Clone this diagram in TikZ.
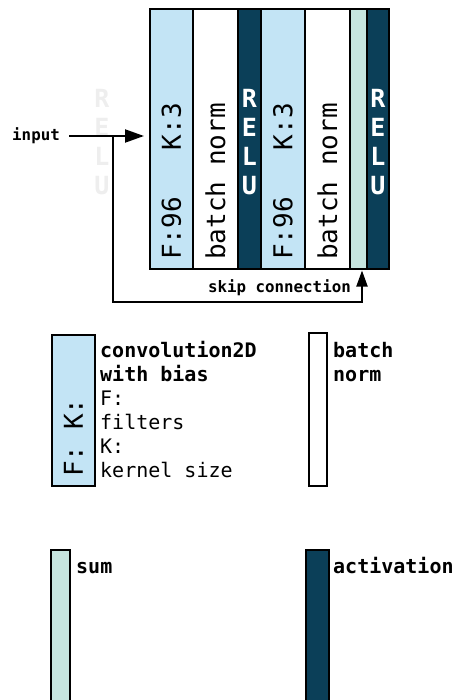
\documentclass[tikz,border=0pt]{standalone}
\usepackage{fontspec}
\setmonofont{DejaVu Sans Mono}
\usetikzlibrary{arrows.meta}
\definecolor{convc}{HTML}{C3E4F5}
\definecolor{actc}{HTML}{0B3F58}
\definecolor{sumc}{HTML}{C6E5DF}
\definecolor{ghostc}{HTML}{EEEEEE}
\begin{document}
\begin{tikzpicture}[x=1pt,y=-1pt,font=\ttfamily,
  col/.style={draw=black,line width=1.5pt,anchor=north west,minimum height=260pt,inner sep=0pt,outer sep=0pt},
  convcol/.style={col,fill=convc},
  bncol/.style={col,fill=white},
  actcol/.style={col,fill=actc},
  sumcol/.style={col,fill=sumc},
  coltxt/.style={rotate=90,anchor=west,inner sep=0pt,font=\ttfamily\fontsize{26}{30}\selectfont},
  relutxt/.style={align=center,inner sep=0pt,text=white,font=\ttfamily\bfseries\fontsize{25}{29}\selectfont},
  smalltxt/.style={inner sep=0pt,font=\ttfamily\bfseries\fontsize{15.8}{18}\selectfont},
  legtxt/.style={anchor=base west,inner sep=0pt,font=\ttfamily\fontsize{20}{24}\selectfont},
  legbold/.style={legtxt,font=\ttfamily\bfseries\fontsize{20}{24}\selectfont},
  legbox/.style={draw=black,line width=1.5pt,anchor=north west,inner sep=0pt,outer sep=0pt},
  conn/.style={draw=black,line width=2pt}]
\useasboundingbox (0,0) rectangle (454,700);
% main block
\node[convcol,minimum width=43pt] (c1) at (150,9) {};
\node[bncol,minimum width=45pt] (b1) at (c1.north east) {};
\node[actcol,minimum width=23pt] (r1) at (b1.north east) {};
\node[convcol,minimum width=44pt] (c2) at (r1.north east) {};
\node[bncol,minimum width=45pt] (b2) at (c2.north east) {};
\node[sumcol,minimum width=17pt] (s) at (b2.north east) {};
\node[actcol,minimum width=22pt] (r2) at (s.north east) {};
\draw[line width=2.5pt] (c1.north west) rectangle (r2.south east);
% column labels
\node[coltxt] (c1t) at ([yshift=9pt]c1.south) {F:96\ \ \ K:3};
\node[coltxt] (b1t) at ([yshift=9pt]b1.south) {batch\ norm};
\node[coltxt] (c2t) at ([yshift=9pt]c2.south) {F:96\ \ \ K:3};
\node[coltxt] (b2t) at ([yshift=9pt]b2.south) {batch\ norm};
\node[relutxt] (r1t) at ([yshift=-3.5pt]r1.center) {R\\E\\L\\U};
\node[relutxt] (r2t) at ([yshift=-3.5pt]r2.center) {R\\E\\L\\U};
\node[relutxt,text=ghostc] (g) at (102,142.5) {R\\E\\L\\U};
% input and skip
\node[smalltxt,anchor=east] (inp) at (60,136) {input};
\coordinate (sp) at (113,136);
\coordinate (skb) at (362,302);
\draw[conn,-{Triangle[length=19pt,width=13pt]},shorten <=9pt,shorten >=6pt] (inp.east) -- (inp.east -| c1.west);
\draw[conn,-{Triangle[length=16pt,width=11pt]},shorten >=1.5pt] (sp) |- (skb) -- (skb |- s.south);
\node[smalltxt,anchor=east] (skt) at (351,288) {skip connection};
% legend: convolution
\node[legbox,fill=convc,minimum width=43pt,minimum height=151pt] (lc) at (52,335) {};
\node[coltxt] (lct) at ([yshift=9pt]lc.south) {F:\ K:};
\node[legbold] (l1) at (100,357) {convolution2D};
\node[legbold] (l2) at (100,381) {with bias};
\node[legtxt] (l3) at (100,405) {F:};
\node[legtxt] (l4) at (100,429) {filters};
\node[legtxt] (l5) at (100,453) {K:};
\node[legtxt] (l6) at (100,477) {kernel size};
% legend: batch norm
\node[legbox,fill=white,minimum width=18pt,minimum height=153pt] (lb) at (309,333) {};
\node[legbold] (lb1) at (333,357) {batch};
\node[legbold] (lb2) at (333,381) {norm};
% legend: sum
\node[legbox,fill=sumc,minimum width=19pt,minimum height=170pt] (ls) at (51,550) {};
\node[legbold] (ls1) at (76,573) {sum};
% legend: activation
\node[legbox,fill=actc,minimum width=23pt,minimum height=170pt] (la) at (306,550) {};
\node[legbold] (la1) at (333,573) {activation};
\end{tikzpicture}
\end{document}
